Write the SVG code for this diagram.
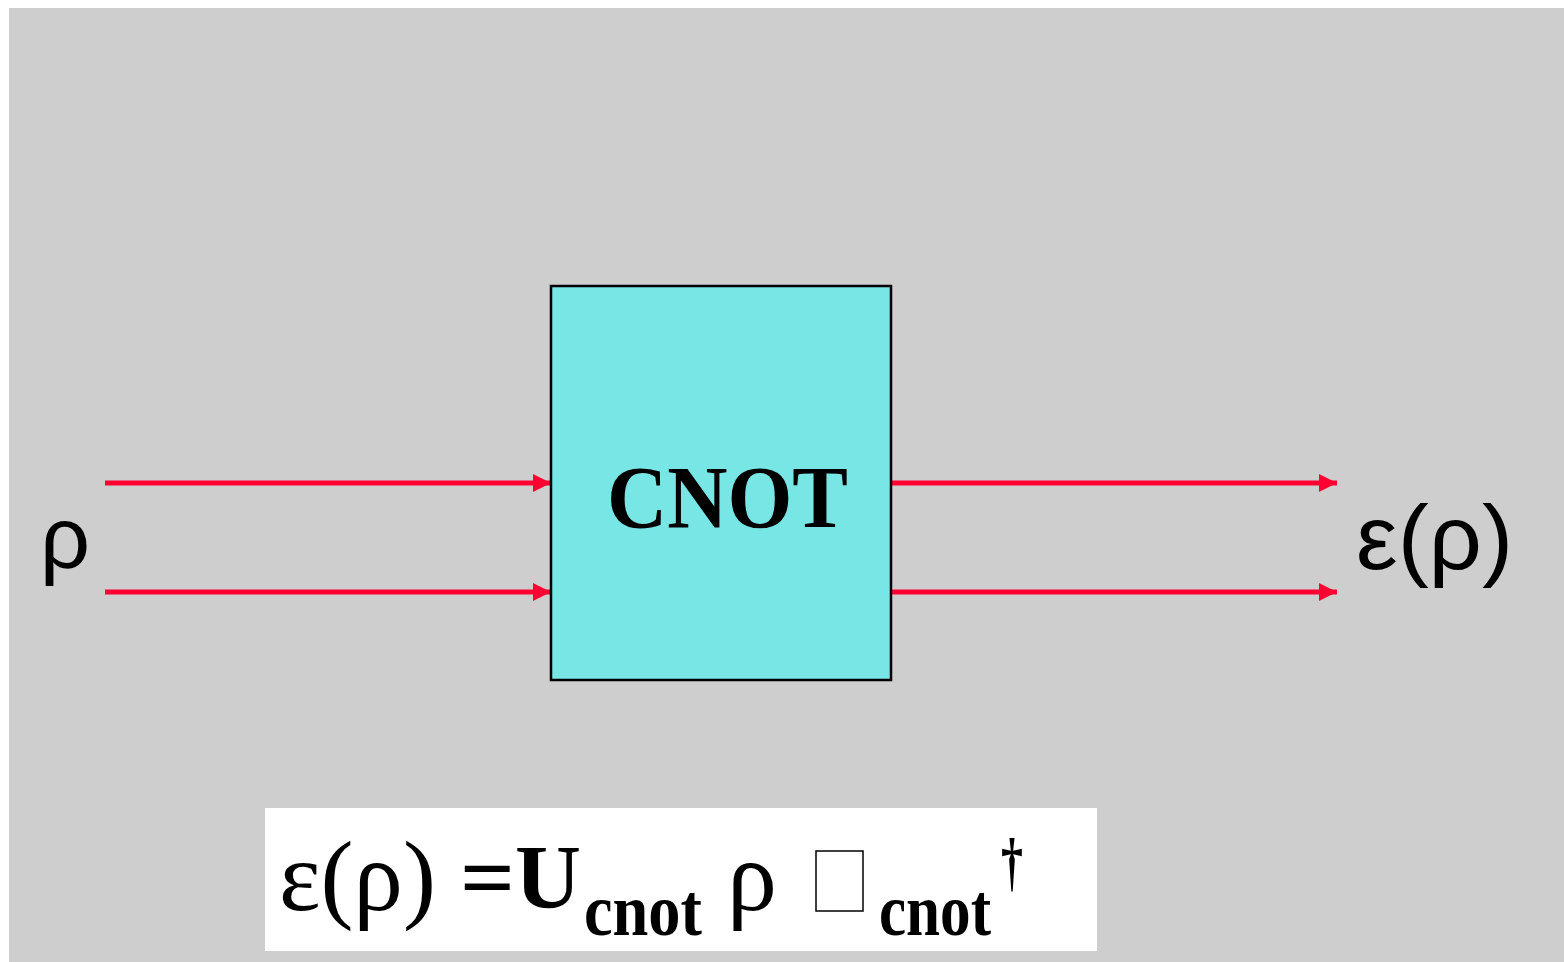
<svg xmlns="http://www.w3.org/2000/svg" width="1564" height="962" viewBox="0 0 1564 962">
  <style>
    .wire { stroke: #FF0033; stroke-width: 5; fill: none; marker-end: url(#ah); }
    .sans { font-family: "Liberation Sans", Arial, sans-serif; fill: #000; }
    .serif { font-family: "Liberation Serif", "Times New Roman", serif; fill: #000; }
    .bold { font-weight: bold; }
  </style>
  <defs>
    <marker id="ah" viewBox="0 0 18 18" refX="18" refY="9" markerWidth="18" markerHeight="18" markerUnits="userSpaceOnUse" orient="auto">
      <path d="M0,0 L18,9 L0,18 Z" fill="#FF0033"/>
    </marker>
  </defs>
  <rect x="0" y="0" width="1564" height="962" fill="#FFFFFF"/>
  <rect x="9" y="8" width="1555" height="954" fill="#CECECE"/>

  <g id="connectors">
    <line class="wire" x1="105" y1="483" x2="551" y2="483"/>
    <line class="wire" x1="105" y1="592" x2="551" y2="592"/>
    <line class="wire" x1="891" y1="483" x2="1337" y2="483"/>
    <line class="wire" x1="891" y1="592" x2="1337" y2="592"/>
  </g>

  <g id="cnot">
    <rect x="551" y="286" width="340" height="394" fill="#79E6E6" stroke="#000" stroke-width="2.5"/>
    <text class="serif bold" x="607" y="527" font-size="88" textLength="241" lengthAdjust="spacingAndGlyphs">CNOT</text>
  </g>

  <g id="input">
    <text class="sans" x="40" y="568" font-size="88">ρ</text>
  </g>

  <g id="output">
    <text class="sans" x="1356" y="569" font-size="90" textLength="157" lengthAdjust="spacingAndGlyphs">ε(ρ)</text>
  </g>

  <g id="formula">
    <rect x="265" y="808" width="832" height="143" fill="#FFFFFF"/>
    <text class="serif" x="279" y="910" font-size="100" textLength="157" lengthAdjust="spacingAndGlyphs">ε(ρ)</text>
    <text class="serif bold" x="460" y="908" font-size="92" textLength="55" lengthAdjust="spacingAndGlyphs">=</text>
    <text class="serif bold" x="515" y="908" font-size="92" textLength="66" lengthAdjust="spacingAndGlyphs">U</text>
    <text class="serif bold" transform="translate(584,935) scale(1,1.16)" x="0" y="0" font-size="64" textLength="118" lengthAdjust="spacingAndGlyphs">cnot</text>
    <text class="serif" x="727" y="910" font-size="100" textLength="50" lengthAdjust="spacingAndGlyphs">ρ</text>
    <rect x="816" y="851" width="47" height="60" fill="#FFFFFF" stroke="#000" stroke-width="1.5"/>
    <text class="serif bold" transform="translate(879,935) scale(1,1.2)" x="0" y="0" font-size="61" textLength="112" lengthAdjust="spacingAndGlyphs">cnot</text>
    <text class="serif bold" transform="translate(1001,884) scale(1,1.42)" x="0" y="0" font-size="46" textLength="22" lengthAdjust="spacingAndGlyphs">†</text>
  </g>
</svg>
